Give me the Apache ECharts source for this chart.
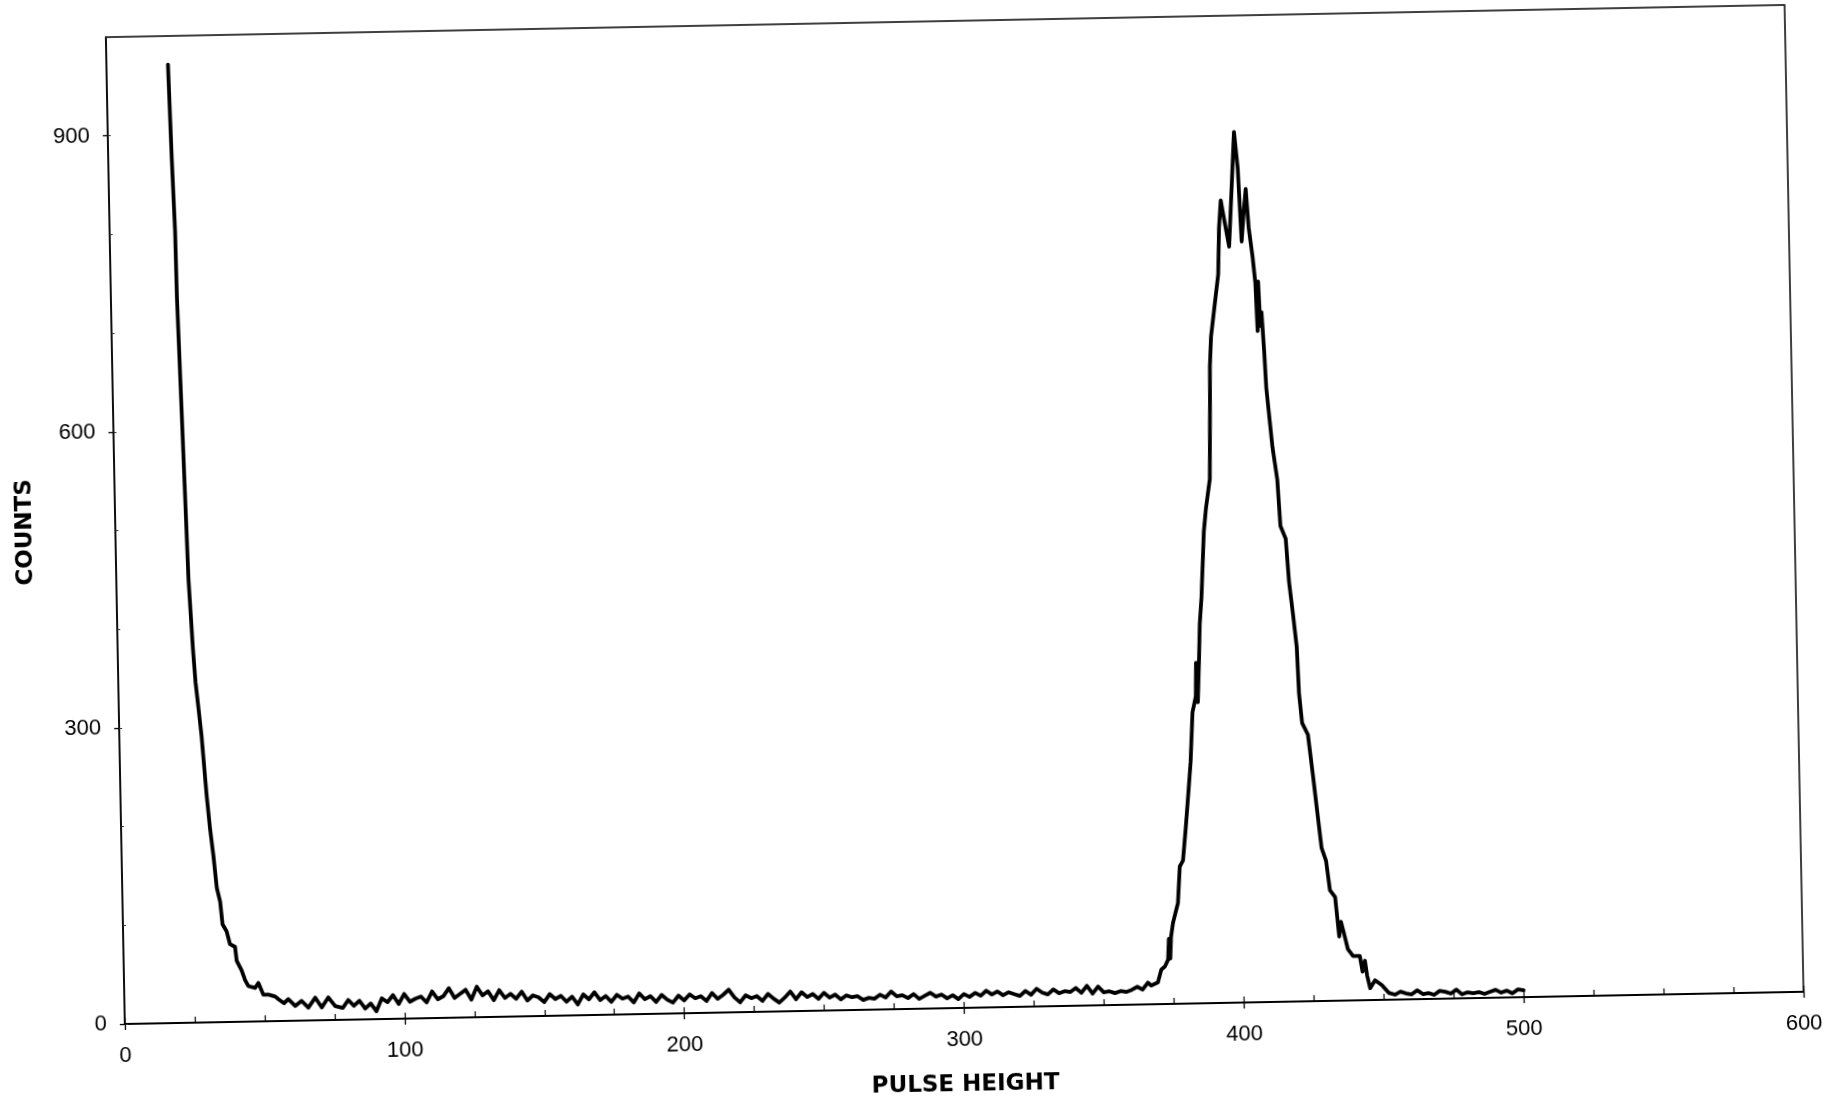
<!DOCTYPE html>
<html>
<head>
<meta charset="utf-8">
<script src="https://cdn.jsdelivr.net/npm/echarts@6/dist/echarts.min.js"></script>
<style>
  html, body { margin: 0; padding: 0; background: #fff; overflow: hidden; width: 1838px; height: 1118px; }
  #wrap { position: fixed; left: 0; top: 0; width: 1838px; height: 1118px; overflow: hidden; background: #fff; }
  #chart {
    position: absolute; left: 0; top: 0; width: 1838px; height: 1118px;
    transform-origin: 125px 1033px;
    transform: rotate(-1.1deg);
  }
</style>
</head>
<body>
<div id="wrap"><div id="chart"></div></div>
<script>
// Axis ticks
const xTicks = [0, 100, 200, 300, 400, 500, 600];
const yTicks = [0, 300, 600, 900];

// Low pulse-height tail
const tailPH = [22, 22.7, 23.4, 23.6, 24.0, 24.9, 25.8, 26.9, 27.6, 28.5, 29.4, 30.8, 31.8, 32.8, 33.8, 34.9, 35.6, 37.0, 38.1, 39.9, 40.4, 42.1, 43.3, 44.4, 46.8, 48.0, 49.7, 51.5, 53.9, 55.1, 57, 58.6, 61.0, 63.3, 65.7, 68.2, 70.5, 72.9, 75.3];
const tailCounts = [971, 876, 802, 735, 685, 567, 449, 379, 345, 318, 290, 230, 196, 169, 136, 122, 99, 92, 79, 76, 62, 52, 42, 36, 34, 39, 27, 27, 25, 22, 18, 22, 15, 20, 13, 23, 13, 23, 14];

// Flat background region
const basePH = [78, 80, 82, 84, 86, 88, 90, 92, 94, 96, 98, 100, 102, 104, 106, 108, 110, 112, 114, 116, 118, 120, 122, 124, 126, 128, 130, 132, 134, 136, 138, 140, 142, 144, 146, 148, 150, 152, 154, 156, 158, 160, 162, 164, 166, 168, 170, 172, 174, 176, 178, 180, 182, 184, 186, 188, 190, 192, 194, 196, 198, 200, 202, 204, 206, 208, 210, 212, 214, 216, 218, 220, 222, 224, 226, 228, 230, 232, 234, 236, 238, 240, 242, 244, 246, 248, 250, 252, 254, 256, 258, 260, 262, 264, 266, 268, 270, 272, 274, 276, 278, 280, 282, 284, 286, 288, 290, 292, 294, 296, 298, 300, 302, 304, 306, 308, 310, 312, 314, 316, 318, 320, 322, 324, 326, 328, 330, 332, 334, 336, 338, 340, 342, 344, 346, 348, 350, 352, 354, 356, 358, 360, 362];
const baseCounts = [12, 20, 14, 19, 11, 16, 8, 21, 17, 24, 15, 25, 17, 20, 22, 16, 27, 19, 22, 30, 20, 24, 28, 18, 31, 22, 26, 17, 27, 19, 23, 18, 25, 16, 21, 19, 14, 22, 17, 20, 14, 19, 11, 21, 16, 23, 15, 19, 13, 20, 16, 18, 12, 21, 15, 18, 12, 19, 14, 11, 18, 13, 19, 15, 17, 12, 20, 14, 18, 23, 15, 10, 17, 14, 16, 11, 18, 13, 9, 14, 20, 12, 19, 14, 17, 12, 18, 13, 16, 11, 15, 13, 14, 10, 12, 11, 15, 12, 18, 13, 14, 11, 15, 10, 13, 16, 12, 14, 10, 13, 9, 14, 11, 15, 12, 17, 13, 16, 12, 15, 13, 11, 16, 12, 18, 14, 12, 17, 13, 15, 14, 18, 13, 20, 12, 19, 13, 14, 12, 14, 13, 15, 18];

// Full-energy peak
const peakPH = [363.9, 365.8, 367, 369.4, 370.7, 372, 373.2, 373.6, 374.0, 374.4, 375.2, 377.1, 378, 379.2, 380.4, 381.5, 382.6, 383.6, 384.9, 385.2, 385.6, 386.3, 386.8, 387.6, 388.9, 389.8, 391.4, 392, 392.2, 392.8, 394.5, 395.8, 396.4, 397.2, 398.5, 399.9, 401.6, 402.4, 403.5, 404.4, 405.3, 406.2, 407, 408.2, 409, 409.5, 410, 410.5, 411, 411.7, 412.2, 414, 415.5, 416.3, 418.1, 419, 420.2, 421.3, 421.8, 422.7, 424.7, 426.2, 427.6, 428.8, 430.3, 431.5, 433.3, 434.5, 435.2, 436.3, 437.5, 439.3, 441.7, 442.6, 443.5, 444.2, 445.2, 447, 449.4, 451.8];
const peakCounts = [15, 22, 19, 22, 35, 38, 45, 66, 46, 68, 82, 102, 139, 145, 178, 211, 245, 295, 311, 345, 305, 348, 384, 411, 478, 501, 531, 611, 645, 675, 711, 738, 785, 813, 790, 766, 845, 882, 845, 771, 800, 824, 785, 755, 729, 680, 730, 685, 699, 659, 622, 562, 529, 482, 469, 425, 392, 359, 312, 282, 270, 229, 189, 155, 142, 112, 105, 65, 80, 67, 52, 45, 45, 29, 40, 25, 12, 20, 15, 7];

// Background above the peak
const endPH = [454, 456, 458, 460, 462, 464, 466, 468, 470, 472, 474, 476, 478, 480, 482, 484, 486, 488, 490, 492, 494, 496, 498, 500];
const endCounts = [5, 8, 6, 5, 9, 5, 6, 4, 8, 7, 5, 9, 4, 6, 5, 6, 4, 6, 8, 5, 7, 4, 8, 7];

const pulseHeight = tailPH.concat(basePH, peakPH, endPH);
const counts = tailCounts.concat(baseCounts, peakCounts, endCounts);
const seriesData = pulseHeight.map((x, i) => [x, counts[i]]);

const chart = echarts.init(document.getElementById('chart'), null, { renderer: 'canvas', width: 1838, height: 1118 });
const labelFont = { fontFamily: 'Liberation Sans, Arial, sans-serif', fontSize: 22, color: '#000' };
const nameFont = { fontFamily: 'DejaVu Sans, sans-serif', fontSize: 23, fontWeight: 'bold', color: '#000' };

chart.setOption({
  animation: false,
  backgroundColor: '#fff',
  grid: { left: 125, top: 37, width: 1679, height: 996, show: true, borderColor: '#000', borderWidth: 1.5, backgroundColor: 'transparent' },
  xAxis: [
    {
      type: 'value', min: 0, max: 600, interval: 100, position: 'bottom',
      name: 'PULSE HEIGHT', nameLocation: 'middle', nameGap: 66, nameTextStyle: nameFont,
      axisLine: { show: true, lineStyle: { color: '#000', width: 1.8 } },
      axisTick: { show: true, inside: false, length: 6, lineStyle: { color: '#000', width: 1.3 } },
      axisLabel: Object.assign({ margin: 21, formatter: v => xTicks.includes(v) ? String(v) : '' }, labelFont),
      splitLine: { show: false }
    },
    {
      type: 'value', min: 0, max: 600, interval: 25, position: 'bottom',
      axisLine: { show: false },
      axisTick: { show: true, inside: true, length: 6, lineStyle: { color: '#000', width: 1.2 } },
      axisLabel: { show: false },
      splitLine: { show: false }
    }
  ],
  yAxis: [
    {
      type: 'value', min: 0, max: 1000, interval: 300, position: 'left',
      name: 'COUNTS', nameLocation: 'middle', nameRotate: 90, nameGap: 78, nameTextStyle: nameFont,
      axisLine: { show: true, lineStyle: { color: '#000', width: 1.5 } },
      axisTick: { show: true, inside: false, length: 5, lineStyle: { color: '#000', width: 1.3 } },
      axisLabel: Object.assign({ margin: 18, showMaxLabel: false, formatter: v => yTicks.includes(v) ? String(v) : '' }, labelFont),
      splitLine: { show: false }
    },
    {
      type: 'value', min: 0, max: 1000, interval: 100, position: 'left',
      axisLine: { show: false },
      axisTick: { show: true, inside: true, length: 3, lineStyle: { color: '#333', width: 1 } },
      axisLabel: { show: false },
      splitLine: { show: false }
    }
  ],
  series: [{
    type: 'line', xAxisIndex: 0, yAxisIndex: 0,
    data: seriesData,
    showSymbol: false, smooth: false,
    lineStyle: { color: '#000', width: 3.8, join: 'round', cap: 'round' }
  }]
});
</script>
</body>
</html>
